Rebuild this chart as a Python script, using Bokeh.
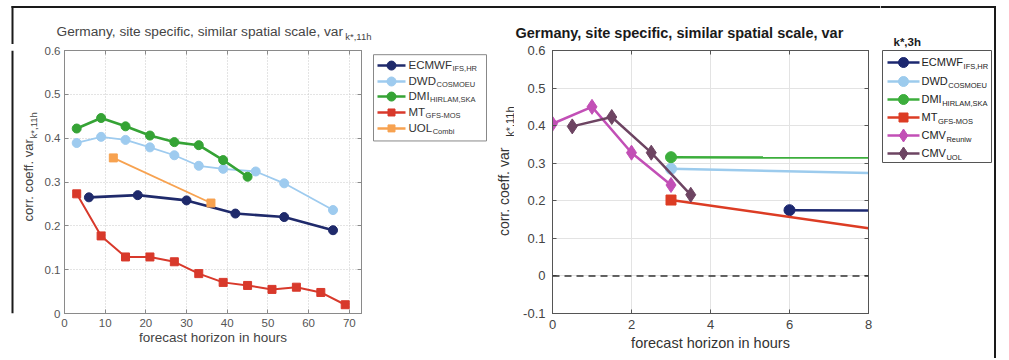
import math
from bokeh.plotting import figure
from bokeh.models import Range1d, LinearAxis, FixedTicker, Span, CustomJSTickFormatter
from bokeh.layouts import row, column
from bokeh.embed import file_html
from bokeh.resources import INLINE
from bokeh.core.properties import value

FONT = "Liberation Sans"

# ---------------- data: left panel (var k*,11h) ----------------
ecmwf_h = [6, 18, 30, 42, 54, 66]
ecmwf_v = [0.265, 0.270, 0.258, 0.228, 0.220, 0.190]
dwd_h = [3, 9, 15, 21, 27, 33, 39, 47, 54, 66]
dwd_v = [0.389, 0.403, 0.396, 0.379, 0.361, 0.337, 0.330, 0.324, 0.297, 0.236]
dmi_h = [3, 9, 15, 21, 27, 33, 39, 45]
dmi_v = [0.422, 0.446, 0.427, 0.406, 0.391, 0.384, 0.350, 0.312]
mt_h = [3, 9, 15, 21, 27, 33, 39, 45, 51, 57, 63, 69]
mt_v = [0.273, 0.177, 0.129, 0.129, 0.118, 0.091, 0.071, 0.064, 0.055, 0.060, 0.048, 0.020]
uol_h = [12, 36]
uol_v = [0.355, 0.252]

# ---------------- data: right panel (var k*,3h) ----------------
r_ecmwf_h = [6, 8]
r_ecmwf_v = [0.175, 0.174]
r_dwd_h = [3, 8]
r_dwd_v = [0.285, 0.274]
r_dmi_h = [3, 8]
r_dmi_v = [0.316, 0.315]
r_mt_h = [3, 8]
r_mt_v = [0.202, 0.127]
cmv_reuniw_h = [0, 1, 2, 3]
cmv_reuniw_v = [0.405, 0.450, 0.328, 0.242]
cmv_uol_h = [0.5, 1.5, 2.5, 3.5]
cmv_uol_v = [0.398, 0.423, 0.328, 0.216]
zero_level = 0

# ---------------- texts / ticks ----------------
left_names = ["ECMWF", "DWD", "DMI", "MT", "UOL"]
left_subs = ["IFS,HR", "COSMOEU", "HIRLAM,SKA", "GFS-MOS", "Combi"]
right_names = ["ECMWF", "DWD", "DMI", "MT", "CMV", "CMV"]
right_subs = ["IFS,HR", "COSMOEU", "HIRLAM,SKA", "GFS-MOS", "Reuniw", "UOL"]
title_text = "Germany, site specific, similar spatial scale, var"
ylabel_text = "corr. coeff. var"
xlabel_text = "forecast horizon in hours"
left_xticks = [0, 10, 20, 30, 40, 50, 60, 70]
left_yticks = [0, 0.1, 0.2, 0.3, 0.4, 0.5, 0.6]
right_xticks = [0, 2, 4, 6, 8]
right_yticks = [-0.1, 0, 0.1, 0.2, 0.3, 0.4, 0.5, 0.6]

# colours
L_COL = ["#1f2a6b", "#9ecbef", "#35a335", "#d8392b", "#f7a250"]
R_COL = ["#1c2870", "#9ccbed", "#3cae3c", "#dc3c24", "#c24fb6", "#6d4462"]
FRAME = "#1a1a1a"

# Arial / Liberation Sans advance widths (per 1000 em)
W = {c: 556 for c in "abdeghnopqu0123456789"}
W.update({"c": 500, "f": 278, "i": 222, "j": 222, "k": 500, "l": 222, "m": 833, "r": 333,
          "s": 500, "t": 278, "v": 500, "w": 722, "x": 500, "y": 500, "z": 500,
          " ": 278, ",": 278, ".": 278, "-": 333, "*": 389,
          "A": 667, "B": 667, "C": 722, "D": 722, "E": 667, "F": 611, "G": 778, "H": 722,
          "I": 278, "K": 667, "L": 556, "M": 833, "N": 722, "O": 778, "P": 667, "R": 722,
          "S": 667, "T": 611, "U": 722, "V": 667, "W": 944})


def tw(s, size):
    return sum(W.get(c, 556) for c in s) / 1000.0 * size


Y0, YM, Y1 = 4, 44, 358  # page rows: top of layout, split title strip / charts, bottom
X0, XD, X1 = 9, 880, 997
FT0, FT1 = 5.5, 7.5        # top frame band (page px)
FL0, FL1 = 11, 13          # left frame band
FR0, FR1 = 993.5, 995.5    # right frame band


# ---------- helper: a blank "sheet" figure whose data coords are page pixels ----------
def sheet(x0, x1, y0, y1):
    p = figure(width=x1 - x0, height=y1 - y0, x_range=Range1d(x0, x1), y_range=Range1d(y1, y0),
               output_backend="svg", toolbar_location=None, title=None,
               x_axis_location=None, y_axis_location=None,
               min_border=0, min_border_left=0, min_border_right=0, min_border_top=0,
               min_border_bottom=0)
    p.grid.visible = False
    p.outline_line_color = None
    p.background_fill_color = "white"
    p.border_fill_color = "white"
    return p


def put_text(p, x, y, s, size, color, align="left", angle=0.0, bold=False):
    p.text([x], [y], text=[s], text_font=value(FONT), text_font_size=f"{size}px",
           text_color=color, text_align=align, text_baseline="middle", angle=angle,
           text_font_style="bold" if bold else "normal")


def band(p, l, r, t, b):
    p.quad(left=[l], right=[r], top=[t], bottom=[b], fill_color=FRAME, line_color=None)


def chart(x0, x1, y0, y1, xr, yr, fl, fr, ft, fb):
    p = figure(width=x1 - x0, height=y1 - y0, x_range=Range1d(*xr), y_range=Range1d(*yr),
               output_backend="svg", toolbar_location=None, title=None,
               min_border_left=fl - x0, min_border_right=x1 - fr,
               min_border_top=ft - y0, min_border_bottom=y1 - fb)
    p.background_fill_color = "white"
    p.border_fill_color = "white"
    return p


def style_axes(p, xticks, yticks, frame_col, lab_col, lab_size, grid_col, grid_dash):
    for ax in (p.below[0], p.left[0]):
        ax.axis_line_color = frame_col
        ax.major_tick_line_color = frame_col
        ax.major_tick_in = 4
        ax.major_tick_out = 0
        ax.minor_tick_line_color = None
        ax.major_label_text_font = FONT
        ax.major_label_text_font_size = f"{lab_size}px"
        ax.major_label_text_color = lab_col
    p.below[0].ticker = FixedTicker(ticks=xticks)
    p.left[0].ticker = FixedTicker(ticks=yticks)
    p.below[0].formatter = CustomJSTickFormatter(code="return tick.toFixed(0);")
    p.left[0].formatter = CustomJSTickFormatter(
        code="return Math.abs(tick) < 1e-9 ? '0' : tick.toFixed(1);")
    for loc, tk in (("above", xticks), ("right", yticks)):
        ax = LinearAxis(ticker=FixedTicker(ticks=tk), axis_line_color=frame_col,
                        major_tick_line_color=frame_col, major_tick_in=4, major_tick_out=0,
                        minor_tick_line_color=None, major_label_text_color=None,
                        major_label_standoff=0,
                        formatter=CustomJSTickFormatter(code="return '';"))
        p.add_layout(ax, loc)
    p.xgrid.ticker = FixedTicker(ticks=xticks)
    p.ygrid.ticker = FixedTicker(ticks=yticks)
    p.grid.grid_line_color = grid_col
    p.grid.grid_line_dash = grid_dash
    p.outline_line_color = frame_col


def legend_items(p, box, rows, names, subs, colors, markers, msizes, lx0, lx1, tx,
                 main_size, sub_size, box_col, txt_col):
    bl, br, bt, bb = box
    p.quad(left=[bl], right=[br], top=[bt], bottom=[bb], fill_color="white",
           line_color=box_col, line_width=1)
    for y, nm, sb, col, mk, ms in zip(rows, names, subs, colors, markers, msizes):
        p.segment(x0=[lx0], y0=[y], x1=[lx1], y1=[y], line_color=col, line_width=2.5)
        p.scatter([(lx0 + lx1) / 2], [y], marker=mk, size=ms, fill_color=col, line_color=col)
        put_text(p, tx, y - 1, nm, main_size, txt_col)
        put_text(p, tx + tw(nm, main_size) + 0.5, y + 4, sb, sub_size, txt_col)


# ================= top strip: frame top edge + titles =================
top = sheet(X0, XD, Y0, YM)
band(top, FL0, XD, FT0, FT1)
band(top, FL0, FL1, FT0, YM)
put_text(top, 56, 31, title_text, 13.7, "#454545")
put_text(top, 56 + tw(title_text, 13.7) + 1, 36, "k*,11h", 9.5, "#454545")
put_text(top, 515, 32, title_text, 14.5, "#1a1a1a", bold=True)

# ================= left y-label strip (with left frame edge) =================
sA = sheet(X0, 40, YM, Y1)
band(sA, FL0, FL1, YM, Y1)
put_text(sA, 28, 150, ylabel_text, 13, "#444444", align="right", angle=math.pi / 2)
put_text(sA, 33, 149, "k*,11h", 9.5, "#444444", align="left", angle=math.pi / 2)

# ================= left chart =================
pA = chart(40, 372, YM, Y1, (0, 73), (0, 0.6), 64, 361, 50, 314)
style_axes(pA, left_xticks, left_yticks, "#8a8a8a", "#555555", 11.5, "#c8c8c8", "1 2")
axA = pA.below[0]
axA.axis_label = xlabel_text
axA.axis_label_text_font = FONT
axA.axis_label_text_font_size = "13.5px"
axA.axis_label_text_font_style = "normal"
axA.axis_label_text_color = "#444444"
axA.axis_label_standoff = 0
axA.major_label_standoff = 5
pA.left[0].major_label_standoff = 4

left_series = [(ecmwf_h, ecmwf_v, "circle", 9, 2.6), (dwd_h, dwd_v, "circle", 9, 1.8),
               (dmi_h, dmi_v, "circle", 9, 2.6), (mt_h, mt_v, "square", 8, 2.0),
               (uol_h, uol_v, "square", 8, 1.8)]
for (h, v, mk, ms, lw), col in zip(left_series, L_COL):
    pA.line(h, v, line_color=col, line_width=lw)
    pA.scatter(h, v, marker=mk, size=ms, fill_color=col, line_color=col)

# ================= left legend + right y-label =================
pB = sheet(372, 514, YM, Y1)
legend_items(pB, (373, 486, 49, 152), [62, 81, 99, 118, 137], left_names, left_subs, L_COL,
             ["circle", "circle", "circle", "square", "square"], [9, 9, 9, 7, 7],
             377, 405, 408, 11.5, 7.5, "#888888", "#333333")
put_text(pB, 503, 160, ylabel_text, 14, "#333333", align="right", angle=math.pi / 2)
put_text(pB, 509, 147, "k*,11h", 11, "#333333", align="left", angle=math.pi / 2)

# ================= right chart =================
pC = chart(514, XD, YM, Y1, (0, 8), (-0.1, 0.6), 552, 868, 49, 313)
style_axes(pC, right_xticks, right_yticks, "#555555", "#444444", 13, "#e3e3e3", "solid")
axC = pC.below[0]
axC.axis_label = xlabel_text
axC.axis_label_text_font = FONT
axC.axis_label_text_font_size = "14.5px"
axC.axis_label_text_font_style = "normal"
axC.axis_label_text_color = "#333333"
axC.axis_label_standoff = 3
axC.major_label_standoff = 6
pC.left[0].major_label_standoff = 7

pC.add_layout(Span(location=zero_level, dimension="width", line_color="#333333",
                   line_width=1.5, line_dash="7 5"))

right_series = [(r_ecmwf_h, r_ecmwf_v, "circle", 11), (r_dwd_h, r_dwd_v, "circle", 11),
                (r_dmi_h, r_dmi_v, "circle", 11), (r_mt_h, r_mt_v, "square", 10)]
for (h, v, mk, ms), col in zip(right_series, R_COL[:4]):
    pC.line(h, v, line_color=col, line_width=2.5)
    pC.scatter(h[:1], v[:1], marker=mk, size=ms, fill_color=col, line_color=col)
for (h, v), col in zip([(cmv_reuniw_h, cmv_reuniw_v), (cmv_uol_h, cmv_uol_v)], R_COL[4:]):
    pC.line(h, v, line_color=col, line_width=2.5)
    pC.scatter(h, v, marker="diamond", size=15, fill_color=col, line_color=col)

# ================= right legend (full height, with right frame edge) =================
pD = sheet(XD, X1, Y0, Y1)
band(pD, XD, FR1, FT0, FT1)
band(pD, FR0, FR1, FT0, Y1)
put_text(pD, 893, 41, "k*,3h", 11.5, "#1a1a1a", bold=True)
legend_items(pD, (882, 991, 50, 162), [62, 81, 99, 117, 135, 153], right_names, right_subs,
             R_COL, ["circle", "circle", "circle", "square", "diamond", "diamond"],
             [10, 10, 10, 9, 13, 13], 887, 919, 921, 11, 7.5, "#555555", "#222222")

layout = row(column(top, row(sA, pA, pB, pC)), pD, margin=(Y0, 0, 0, X0))

open("out.html", "w").write(file_html(layout, INLINE))
